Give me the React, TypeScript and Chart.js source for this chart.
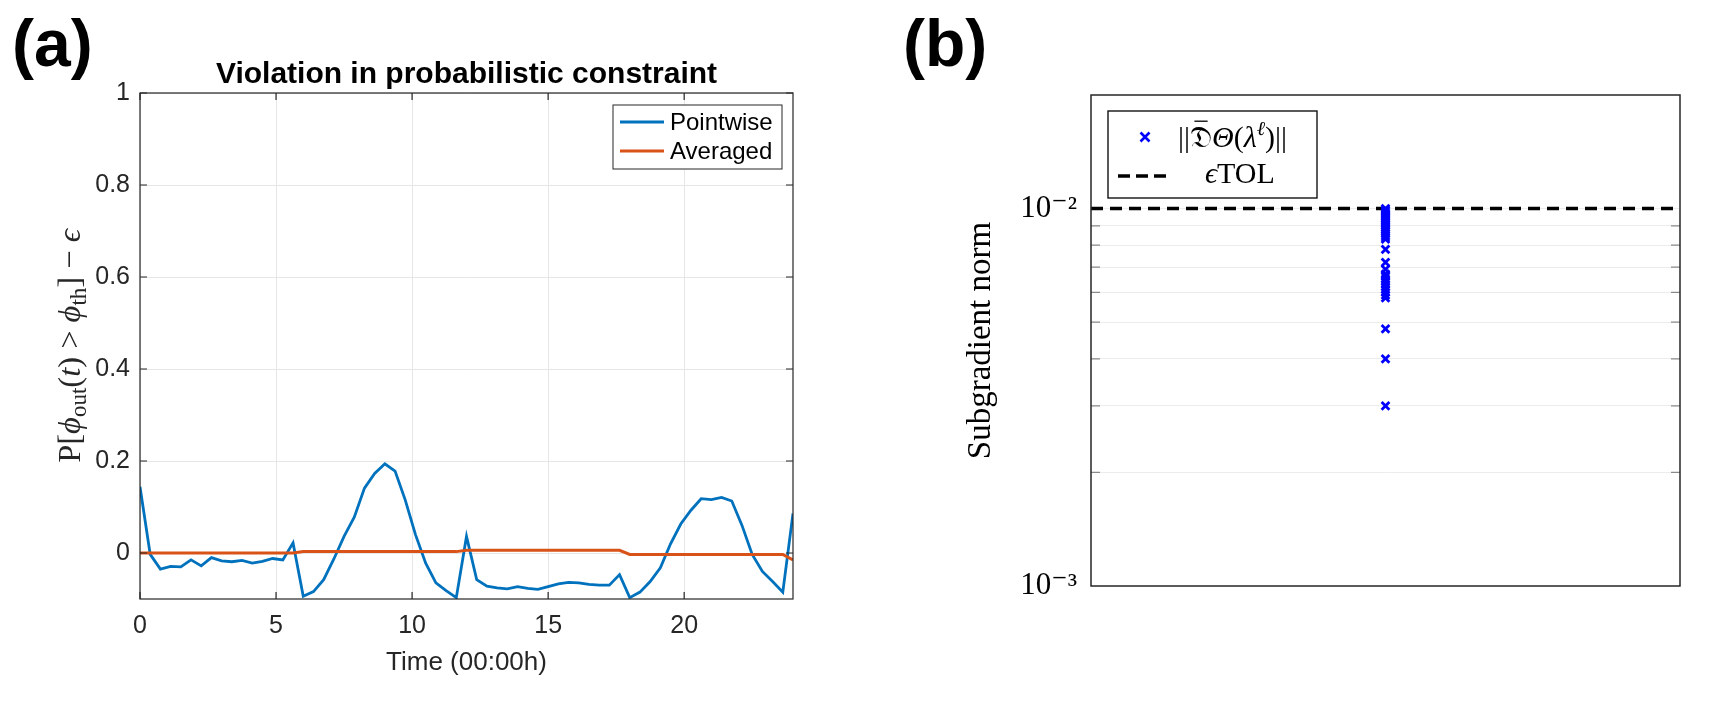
import React, { useEffect, useRef } from 'react';
import { Chart, registerables } from 'chart.js';

Chart.register(...registerables);

const FONT_SANS = "'Liberation Sans', Arial, Helvetica, sans-serif";
const FONT_SERIF = "'Liberation Serif', 'DejaVu Serif', 'Times New Roman', serif";

// ---------- Panel (a) data ----------
const timeHours = [
  0, 0.375, 0.75, 1.125, 1.5, 1.875, 2.25, 2.625, 3, 3.375, 3.75, 4.125, 4.5, 4.875, 5.25, 5.625,
  6, 6.375, 6.75, 7.125, 7.5, 7.875, 8.25, 8.625, 9, 9.375, 9.75, 10.125, 10.5, 10.875, 11.25, 11.625,
  12, 12.375, 12.75, 13.125, 13.5, 13.875, 14.25, 14.625, 15, 15.375, 15.75, 16.125, 16.5, 16.875, 17.25, 17.625,
  18, 18.375, 18.75, 19.125, 19.5, 19.875, 20.25, 20.625, 21, 21.375, 21.75, 22.125, 22.5, 22.875, 23.25, 23.625,
  24,
];

const pointwise = [
  0.144, -0.003, -0.035, -0.029, -0.030, -0.015, -0.028, -0.010, -0.017, -0.019, -0.016, -0.022, -0.018, -0.012, -0.015, 0.022,
  -0.094, -0.084, -0.058, -0.013, 0.036, 0.078, 0.141, 0.173, 0.194, 0.178, 0.115, 0.040, -0.022, -0.065, -0.082, -0.097,
  0.036, -0.058, -0.072, -0.076, -0.078, -0.073, -0.077, -0.079, -0.073, -0.067, -0.064, -0.065, -0.068, -0.070, -0.070, -0.047,
  -0.097, -0.085, -0.062, -0.032, 0.020, 0.063, 0.093, 0.118, 0.116, 0.121, 0.113, 0.060, -0.003, -0.040, -0.062, -0.085,
  0.086,
];

const averaged = [
  0, 0, 0, 0, 0, 0, 0, 0, 0, 0, 0, 0, 0, 0, 0, 0,
  0.003, 0.003, 0.003, 0.003, 0.003, 0.003, 0.003, 0.003, 0.003, 0.003, 0.003, 0.003, 0.003, 0.003, 0.003, 0.003,
  0.006, 0.006, 0.006, 0.006, 0.006, 0.006, 0.006, 0.006, 0.006, 0.006, 0.006, 0.006, 0.006, 0.006, 0.006, 0.006,
  -0.003, -0.003, -0.003, -0.003, -0.003, -0.003, -0.003, -0.003, -0.003, -0.003, -0.003, -0.003, -0.003, -0.003, -0.003, -0.003,
  -0.015,
];

const xTicksA = [0, 5, 10, 15, 20];
const yTicksA = [0, 0.2, 0.4, 0.6, 0.8, 1];
const yTickLabelsA = ['0', '0.2', '0.4', '0.6', '0.8', '1'];
const seriesNamesA = ['Pointwise', 'Averaged'];
const seriesColorsA = ['#0072BD', '#D95319'];

// ---------- Panel (b) data ----------
const subgradNorms = [
  0.0100, 0.0099, 0.0098, 0.0097, 0.0096, 0.0095, 0.0094, 0.0093, 0.0092, 0.0091, 0.0090,
  0.0089, 0.0088, 0.0087, 0.0086, 0.0085, 0.0084, 0.0083,
  0.0078, 0.0072, 0.0069,
  0.0067, 0.0066, 0.0065, 0.0064, 0.0063, 0.0062, 0.0061, 0.0060, 0.0059, 0.0058,
  0.0048, 0.0040, 0.0030,
];
const subgradColumn = 1;
const tolValue = 0.01;
const xRangeB = [0, 2];
const yTicksB = [0.001, 0.002, 0.003, 0.004, 0.005, 0.006, 0.007, 0.008, 0.009, 0.01, 0.02];
const yMajorLabelsB: Record<string, string> = { '0.001': '10⁻³', '0.01': '10⁻²' };

type Seg = { t: string; size: number; italic?: boolean; dy?: number; bar?: boolean };

function segFont(s: Seg) {
  return `${s.italic ? 'italic ' : ''}${s.size}px ${FONT_SERIF}`;
}

function drawRich(ctx: CanvasRenderingContext2D, segs: Seg[], x: number, y: number, align: 'left' | 'center', color: string) {
  ctx.save();
  ctx.textBaseline = 'alphabetic';
  ctx.textAlign = 'left';
  ctx.fillStyle = color;
  ctx.strokeStyle = color;
  const widths = segs.map((s) => {
    ctx.font = segFont(s);
    return ctx.measureText(s.t).width;
  });
  const total = widths.reduce((a, b) => a + b, 0);
  let cx = align === 'center' ? x - total / 2 : x;
  segs.forEach((s, i) => {
    ctx.font = segFont(s);
    ctx.fillText(s.t, cx, y + (s.dy || 0));
    if (s.bar) {
      ctx.lineWidth = 1.3;
      ctx.beginPath();
      ctx.moveTo(cx + widths[i] * 0.2, y - s.size * 0.86);
      ctx.lineTo(cx + widths[i] * 0.8, y - s.size * 0.86);
      ctx.stroke();
    }
    cx += widths[i];
  });
  ctx.restore();
}

const decorA = {
  id: 'decorA',
  afterDraw(chart: any) {
    const ctx: CanvasRenderingContext2D = chart.ctx;
    const { left, right, top, bottom } = chart.chartArea;
    const xs = chart.scales.x;
    const ys = chart.scales.y;
    ctx.save();
    // box
    ctx.strokeStyle = '#262626';
    ctx.lineWidth = 1.2;
    ctx.strokeRect(left, top, right - left, bottom - top);
    // inward ticks
    ctx.beginPath();
    xTicksA.forEach((v) => {
      const px = xs.getPixelForValue(v);
      ctx.moveTo(px, bottom);
      ctx.lineTo(px, bottom - 7);
      ctx.moveTo(px, top);
      ctx.lineTo(px, top + 7);
    });
    yTicksA.forEach((v) => {
      const py = ys.getPixelForValue(v);
      ctx.moveTo(left, py);
      ctx.lineTo(left + 7, py);
      ctx.moveTo(right, py);
      ctx.lineTo(right - 7, py);
    });
    ctx.stroke();

    // legend
    const bw = 169, bh = 64;
    const bx = right - 11 - bw, by = top + 12;
    ctx.fillStyle = '#ffffff';
    ctx.fillRect(bx, by, bw, bh);
    ctx.strokeStyle = '#262626';
    ctx.lineWidth = 1;
    ctx.strokeRect(bx, by, bw, bh);
    seriesNamesA.forEach((name, i) => {
      const ly = by + 17 + i * 29;
      ctx.strokeStyle = seriesColorsA[i];
      ctx.lineWidth = 3;
      ctx.beginPath();
      ctx.moveTo(bx + 7, ly);
      ctx.lineTo(bx + 51, ly);
      ctx.stroke();
      ctx.fillStyle = '#000';
      ctx.font = `24px ${FONT_SANS}`;
      ctx.textBaseline = 'middle';
      ctx.textAlign = 'left';
      ctx.fillText(name, bx + 57, ly + 1);
    });
    ctx.restore();

    // y-axis label with subscripts
    ctx.save();
    ctx.translate(80, (top + bottom) / 2);
    ctx.rotate(-Math.PI / 2);
    const B = 32.5, S = 23, D = 6;
    drawRich(ctx, [
      { t: 'P', size: B },
      { t: '[', size: B },
      { t: 'ϕ', size: B, italic: true },
      { t: 'out', size: S, dy: D },
      { t: '(', size: B },
      { t: 't', size: B, italic: true },
      { t: ')', size: B },
      { t: ' > ', size: B },
      { t: 'ϕ', size: B, italic: true },
      { t: 'th', size: S, dy: D },
      { t: ']', size: B },
      { t: ' − ', size: B },
      { t: 'ϵ', size: B, italic: true },
    ], 0, 0, 'center', '#262626');
    ctx.restore();
  },
};

const decorB = {
  id: 'decorB',
  afterDraw(chart: any) {
    const ctx: CanvasRenderingContext2D = chart.ctx;
    const { left, right, top, bottom } = chart.chartArea;
    const ys = chart.scales.y;
    ctx.save();
    // minor inward ticks
    ctx.strokeStyle = '#8a8a8a';
    ctx.lineWidth = 1.2;
    ctx.beginPath();
    yTicksB.forEach((v) => {
      if (v === 0.001 || v === 0.02 || v === 0.01) return;
      const py = ys.getPixelForValue(v);
      ctx.moveTo(left, py);
      ctx.lineTo(left + 9, py);
      ctx.moveTo(right, py);
      ctx.lineTo(right - 9, py);
    });
    ctx.stroke();
    // box
    ctx.strokeStyle = '#262626';
    ctx.lineWidth = 1.5;
    ctx.strokeRect(left, top, right - left, bottom - top);

    // legend
    const bx = left + 17, by = top + 16, bw = 209, bh = 87;
    ctx.fillStyle = '#fff';
    ctx.fillRect(bx, by, bw, bh);
    ctx.strokeStyle = '#000';
    ctx.lineWidth = 1.3;
    ctx.strokeRect(bx, by, bw, bh);
    // marker sample
    const mx = bx + 37, my = by + 26, r = 4.5;
    ctx.strokeStyle = '#0000FF';
    ctx.lineWidth = 2.6;
    ctx.beginPath();
    ctx.moveTo(mx - r, my - r);
    ctx.lineTo(mx + r, my + r);
    ctx.moveTo(mx + r, my - r);
    ctx.lineTo(mx - r, my + r);
    ctx.stroke();
    // dashed sample
    ctx.strokeStyle = '#000';
    ctx.lineWidth = 3.5;
    ctx.setLineDash([12, 6]);
    ctx.beginPath();
    ctx.moveTo(bx + 10, by + 65);
    ctx.lineTo(bx + 58, by + 65);
    ctx.stroke();
    ctx.setLineDash([]);
    const F = 30;
    drawRich(ctx, [
      { t: '||', size: F },
      { t: '𝔇', size: F, bar: true },
      { t: 'Θ', size: F, italic: true },
      { t: '(', size: F },
      { t: 'λ', size: F, italic: true },
      { t: 'ℓ', size: 20, italic: true, dy: -12 },
      { t: ')', size: F },
      { t: '||', size: F },
    ], bx + 70, by + 36, 'left', '#000');
    drawRich(ctx, [
      { t: 'ϵ', size: F, italic: true },
      { t: 'TOL', size: F },
    ], bx + 97, by + 72, 'left', '#000');
    ctx.restore();
  },
};

function makeChartA(canvas: HTMLCanvasElement) {
  return new Chart(canvas, {
    type: 'line',
    data: {
      datasets: [
        {
          label: seriesNamesA[0],
          data: timeHours.map((t, i) => ({ x: t, y: pointwise[i] })),
          borderColor: seriesColorsA[0],
          backgroundColor: seriesColorsA[0],
          borderWidth: 2.8,
          pointRadius: 0,
          tension: 0,
          order: 1,
        },
        {
          label: seriesNamesA[1],
          data: timeHours.map((t, i) => ({ x: t, y: averaged[i] })),
          borderColor: seriesColorsA[1],
          backgroundColor: seriesColorsA[1],
          borderWidth: 3,
          pointRadius: 0,
          tension: 0,
          order: 0,
        },
      ],
    },
    options: {
      animation: false,
      responsive: false,
      devicePixelRatio: 1,
      layout: { padding: { left: 0, right: 67, top: 0, bottom: 0 } },
      plugins: {
        legend: { display: false },
        tooltip: { enabled: false },
        title: {
          display: true,
          text: 'Violation in probabilistic constraint',
          fullSize: false,
          color: '#000',
          font: { family: FONT_SANS, size: 30, weight: 'bold' },
          padding: { top: 57, bottom: 0 },
        },
      },
      scales: {
        x: {
          type: 'linear',
          min: 0,
          max: 24,
          afterBuildTicks: (s: any) => { s.ticks = xTicksA.map((v) => ({ value: v })); },
          afterFit: (s: any) => { s.height = 106; },
          grid: { color: '#e6e6e6', drawTicks: false, lineWidth: 1 },
          border: { display: false },
          ticks: {
            autoSkip: false,
            maxRotation: 0,
            padding: 12,
            color: '#262626',
            font: { family: FONT_SANS, size: 25 },
            callback: (v: any) => String(v),
          },
          title: {
            display: true,
            text: 'Time (00:00h)',
            color: '#262626',
            font: { family: FONT_SANS, size: 26 },
            padding: { top: 0, bottom: 27 },
          },
        },
        y: {
          type: 'linear',
          min: -0.1,
          max: 1,
          afterBuildTicks: (s: any) => { s.ticks = yTicksA.map((v) => ({ value: v })); },
          afterFit: (s: any) => { s.width = 140; },
          grid: { color: '#e6e6e6', drawTicks: false, lineWidth: 1 },
          border: { display: false },
          ticks: {
            autoSkip: false,
            padding: 10,
            color: '#262626',
            font: { family: FONT_SANS, size: 25 },
            callback: (v: any) => {
              const i = yTicksA.indexOf(v);
              return i >= 0 ? yTickLabelsA[i] : '';
            },
          },
        },
      },
    },
    plugins: [decorA],
  } as any);
}

function makeChartB(canvas: HTMLCanvasElement) {
  return new Chart(canvas, {
    type: 'scatter',
    data: {
      datasets: [
        {
          label: '||D Θ(λ^ℓ)||',
          data: subgradNorms.map((v) => ({ x: subgradColumn, y: v })),
          pointStyle: 'crossRot',
          pointRadius: 5.5,
          borderColor: '#0000FF',
          backgroundColor: '#0000FF',
          borderWidth: 2.8,
          showLine: false,
        },
        {
          type: 'line',
          label: 'ϵTOL',
          data: xRangeB.map((x) => ({ x, y: tolValue })),
          borderColor: '#000',
          borderWidth: 3.5,
          borderDash: [12, 7],
          pointRadius: 0,
          showLine: true,
          fill: false,
        },
      ],
    },
    options: {
      animation: false,
      responsive: false,
      devicePixelRatio: 1,
      layout: { padding: { left: 0, right: 50, top: 0, bottom: 119 } },
      plugins: {
        legend: { display: false },
        tooltip: { enabled: false },
        title: { display: true, text: '', font: { size: 20 }, padding: { top: 71, bottom: 0 } },
      },
      scales: {
        x: { type: 'linear', min: xRangeB[0], max: xRangeB[1], display: false },
        y: {
          type: 'logarithmic',
          min: 0.001,
          max: 0.02,
          afterBuildTicks: (s: any) => { s.ticks = yTicksB.map((v) => ({ value: v })); },
          afterFit: (s: any) => { s.width = 221; },
          grid: {
            drawTicks: false,
            lineWidth: 1,
            color: (c: any) => {
              const v = c.tick ? c.tick.value : 0;
              return v === 0.001 || v === 0.02 ? 'rgba(0,0,0,0)' : '#ececec';
            },
          },
          border: { display: false },
          ticks: {
            autoSkip: false,
            padding: 14,
            color: '#000',
            font: { family: FONT_SERIF, size: 31 },
            callback: (v: any) => yMajorLabelsB[String(v)] || '',
          },
          title: {
            display: true,
            text: 'Subgradient norm',
            color: '#000',
            font: { family: FONT_SERIF, size: 33 },
            padding: { top: 92, bottom: 0 },
          },
        },
      },
    },
    plugins: [decorB],
  } as any);
}

export default function App() {
  const refA = useRef<HTMLCanvasElement>(null);
  const refB = useRef<HTMLCanvasElement>(null);

  useEffect(() => {
    const a = makeChartA(refA.current!);
    const b = makeChartB(refB.current!);
    return () => {
      a.destroy();
      b.destroy();
    };
  }, []);

  const panelLabel: React.CSSProperties = {
    position: 'absolute',
    top: 10,
    font: `bold 66px ${FONT_SANS}`,
    lineHeight: '66px',
    color: '#000',
    margin: 0,
  };

  return (
    <div style={{ position: 'absolute', left: 0, top: 0, width: 1730, height: 705, background: '#fff', overflow: 'hidden' }}>
      <canvas ref={refA} width={860} height={705} style={{ position: 'absolute', left: 0, top: 0, width: 860, height: 705 }} />
      <canvas ref={refB} width={860} height={705} style={{ position: 'absolute', left: 870, top: 0, width: 860, height: 705 }} />
      <div style={{ ...panelLabel, left: 12 }}>(a)</div>
      <div style={{ ...panelLabel, left: 903 }}>(b)</div>
    </div>
  );
}
